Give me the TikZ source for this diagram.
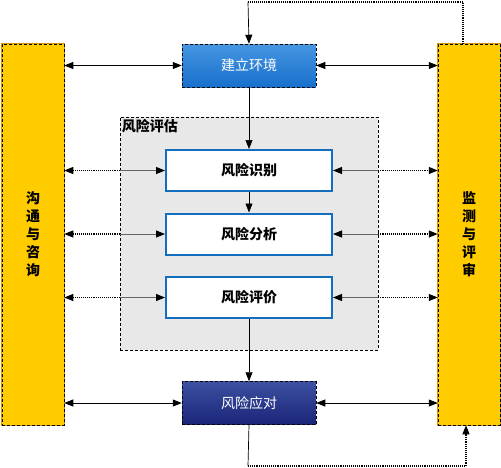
\documentclass[tikz,border=0pt]{standalone}
\usepackage{fontspec}
\newfontfamily\cjk{Noto Sans CJK SC}
\usepackage{tikz}
\usetikzlibrary{arrows.meta,positioning}

\definecolor{barYellow}{RGB}{255,204,0}
\definecolor{barEdge}{RGB}{214,150,0}
\definecolor{envBlue}{RGB}{24,112,204}
\definecolor{envTop}{RGB}{70,150,225}
\definecolor{respNavy}{RGB}{26,36,120}
\definecolor{respTop}{RGB}{60,80,160}
\definecolor{stepBlue}{RGB}{20,110,190}
\definecolor{assessGray}{RGB}{232,232,232}

\tikzset{
  bar/.style={fill=barYellow, draw=black, densely dashed, line width=0.5pt,
    preaction={draw=barEdge, solid, line width=2.5pt},
    minimum width=62pt, minimum height=381pt, inner sep=0pt,
    font=\cjk\bfseries\fontsize{14}{18}\selectfont, align=center},
  phase/.style={draw=black, densely dashed, line width=0.5pt,
    minimum width=134pt, minimum height=43pt, inner sep=0pt,
    text=white, font=\cjk\fontsize{14}{16}\selectfont},
  stepbox/.style={fill=white, draw=stepBlue, line width=2pt,
    minimum width=166pt, minimum height=41pt, inner sep=0pt,
    font=\cjk\bfseries\fontsize{14}{16}\selectfont},
  tip/.tip={Triangle[length=9pt,width=7pt,color=black]},
  link/.style={line width=0.7pt},
  dotlink/.style={line width=1.1pt, densely dotted},
  graylink/.style={line width=0.9pt, black!60}
}

\begin{document}
\begin{tikzpicture}[x=1pt,y=-1pt]
\useasboundingbox (0,0) rectangle (501,467);

% Side bars
\node[bar] (comm) at (33,234.5) {沟\\通\\与\\咨\\询};
\node[bar] (mon) at (469,234.5) {监\\测\\与\\评\\审};

% Risk assessment group
\node[fill=assessGray, draw=black, densely dashed, line width=0.5pt,
  minimum width=258pt, minimum height=233pt] (assess) at (249,233.5) {};
\node[anchor=north west, inner sep=2pt, font=\cjk\bfseries\fontsize{14}{16}\selectfont]
  (assesslbl) at (assess.north west) {风险评估};

% Phases
\node[phase, top color=envTop, bottom color=envBlue] (env) at (249,65.5) {建立环境};
\node[phase, top color=respTop, bottom color=respNavy] (resp) at (249,403) {风险应对};

% Steps
\node[stepbox] (ident) at (249,170.5) {风险识别};
\node[stepbox] (anal) at (249,234) {风险分析};
\node[stepbox] (eval) at (249,297.5) {风险评价};

% Main flow
\draw[link,-tip] (env) -- (ident);
\draw[link,-tip] (ident) -- (anal);
\draw[link,-tip] (eval) -- (resp);

% Feedback loops
\coordinate (loopTop) at (248,2);
\coordinate (loopBot) at (248,466);
\draw[dotlink] ([xshift=-6pt]mon.north) |- (loopTop);
\draw[link,-tip] (loopTop) -- (env.north);
\draw[link] (resp.south) -- (loopBot);
\draw[dotlink,-tip] (loopBot) -| ([xshift=-3pt]mon.south);

% Side links to phases
\draw[link,tip-tip] (comm.east |- env.west) -- (env.west);
\draw[link,tip-tip] (env.east) -- (mon.west |- env.east);
\draw[link,tip-tip] (comm.east |- resp.west) -- (resp.west);
\draw[link,tip-tip] (resp.east) -- (mon.west |- resp.east);

% Side links to steps
\foreach \s in {ident,anal,eval} {
  \draw[dotlink,-tip] (assess.west |- \s.west) -- (comm.east |- \s.west);
  \draw[graylink,-tip] (assess.west |- \s.west) -- (\s.west);
  \draw[dotlink,-tip] (assess.east |- \s.east) -- (mon.west |- \s.east);
  \draw[graylink,-tip] (assess.east |- \s.east) -- (\s.east);
}
\end{tikzpicture}
\end{document}
